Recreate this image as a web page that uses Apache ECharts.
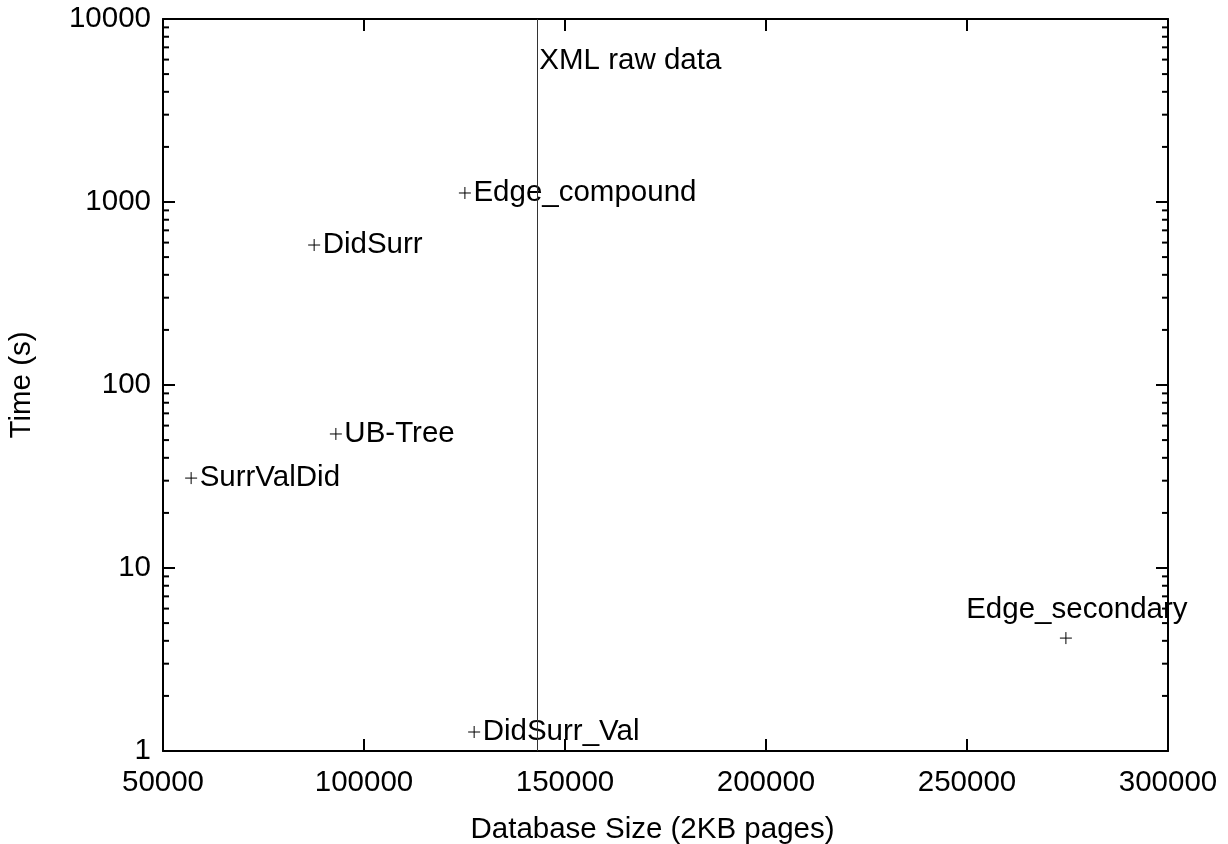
<!DOCTYPE html>
<html>
<head>
<meta charset="utf-8">
<script src="https://cdn.jsdelivr.net/npm/echarts@6/dist/echarts.min.js"></script>
<style>
  html, body { margin: 0; padding: 0; background: #fff; }
  #chart { width: 1228px; height: 844px; }
</style>
</head>
<body>
<div id="chart"></div>
<script>
// Storage schemes: database size (2KB pages) vs. query time (s)
const schemeNames = ['Edge_compound', 'DidSurr', 'UB-Tree', 'SurrValDid', 'DidSurr_Val', 'Edge_secondary'];
const dbSizes     = [125100, 87600, 93000, 57000, 127400, 274600];
const times       = [1120, 582, 54, 31, 1.27, 4.14];

// Reference: size of the raw XML data
const xmlRawSize = 143000;
const xmlLabel = 'XML raw data';
const xmlLabelTime = 5900;

// Axis ranges and ticks
const xTicks = [50000, 100000, 150000, 200000, 250000, 300000];
const yDecades = [1, 10, 100, 1000, 10000];
const yMinorMultipliers = [2, 3, 4, 5, 6, 7, 8, 9];

const FONT = 'Liberation Sans, Arial, Helvetica, sans-serif';
const FS = 29.5;

const minorTickValues = [];
yDecades.slice(0, -1).forEach(d => yMinorMultipliers.forEach(m => minorTickValues.push(m * d)));

const pointData = schemeNames.map((n, i) => ({ name: n, value: [dbSizes[i], times[i]] }));

const crossSymbol = 'path://M0,5L10,5M5,0L5,10';

function axisCommon() {
  return {
    axisLine: { show: true, onZero: false, lineStyle: { color: '#000', width: 2 } },
    axisTick: { show: true, inside: true, length: 12, lineStyle: { color: '#000', width: 2 } },
    splitLine: { show: false },
    minorTick: { show: false },
    minorSplitLine: { show: false }
  };
}

const chart = echarts.init(document.getElementById('chart'), null, { renderer: 'canvas' });

chart.setOption({
  animation: false,
  backgroundColor: '#fff',
  textStyle: { fontFamily: FONT },
  grid: { left: 163, right: 60, top: 19, bottom: 93, containLabel: false, outerBoundsMode: 'none' },
  xAxis: [
    Object.assign(axisCommon(), {
      type: 'value', position: 'bottom',
      min: xTicks[0], max: xTicks[xTicks.length - 1], interval: xTicks[1] - xTicks[0],
      name: 'Database Size (2KB pages)', nameLocation: 'middle', nameGap: 64,
      nameTextStyle: { fontFamily: FONT, fontSize: FS, color: '#000', padding: [0, 26, 0, 0] },
      axisLabel: { fontFamily: FONT, fontSize: FS, color: '#000', margin: 17, formatter: v => String(v) }
    }),
    Object.assign(axisCommon(), {
      type: 'value', position: 'top',
      min: xTicks[0], max: xTicks[xTicks.length - 1], interval: xTicks[1] - xTicks[0],
      axisLabel: { show: false }
    })
  ],
  yAxis: [
    Object.assign(axisCommon(), {
      type: 'log', logBase: 10, position: 'left',
      min: yDecades[0], max: yDecades[yDecades.length - 1],
      name: 'Time (s)', nameLocation: 'middle', nameGap: 126, nameRotate: 90,
      nameTextStyle: { fontFamily: FONT, fontSize: FS, color: '#000' },
      axisLabel: { fontFamily: FONT, fontSize: FS, color: '#000', margin: 12, formatter: v => String(Math.round(v)) }
    }),
    Object.assign(axisCommon(), {
      type: 'log', logBase: 10, position: 'right',
      min: yDecades[0], max: yDecades[yDecades.length - 1],
      axisLabel: { show: false }
    })
  ],
  series: [
    {
      // minor ticks of the logarithmic time axis, on both left and right frame edges
      type: 'custom',
      xAxisIndex: 0, yAxisIndex: 0,
      silent: true,
      data: minorTickValues.map(v => [xTicks[0], v]),
      renderItem: function (params, api) {
        const p = api.coord([api.value(0), api.value(1)]);
        const cs = params.coordSys;
        const style = { stroke: '#000', lineWidth: 2 };
        return {
          type: 'group',
          children: [
            { type: 'line', shape: { x1: cs.x, y1: p[1], x2: cs.x + 6, y2: p[1] }, style: style },
            { type: 'line', shape: { x1: cs.x + cs.width - 6, y1: p[1], x2: cs.x + cs.width, y2: p[1] }, style: style }
          ]
        };
      }
    },
    {
      type: 'scatter',
      xAxisIndex: 0, yAxisIndex: 0,
      symbol: crossSymbol,
      symbolSize: 12,
      itemStyle: { color: 'none', borderColor: '#000', borderWidth: 1, opacity: 1 },
      label: {
        show: true, position: 'right', distance: 0,
        formatter: '{b}', fontFamily: FONT, fontSize: FS, color: '#000'
      },
      data: pointData.map(d => d.name === 'Edge_secondary'
        ? Object.assign({}, d, { label: { position: 'top', distance: 5, offset: [11, 0] } })
        : d),
      markLine: {
        silent: true,
        symbol: 'none',
        label: { show: false },
        lineStyle: { color: '#333', width: 1, type: 'solid' },
        data: [{ xAxis: xmlRawSize }]
      },
      z: 3
    },
    {
      // caption of the raw-data reference line
      type: 'scatter',
      xAxisIndex: 0, yAxisIndex: 0,
      symbol: 'circle',
      symbolSize: 1,
      itemStyle: { color: 'rgba(0,0,0,0)', opacity: 1 },
      label: {
        show: true, position: 'right', distance: 2,
        formatter: '{b}', fontFamily: FONT, fontSize: FS, color: '#000'
      },
      data: [{ name: xmlLabel, value: [xmlRawSize, xmlLabelTime] }]
    }
  ]
});
</script>
</body>
</html>
